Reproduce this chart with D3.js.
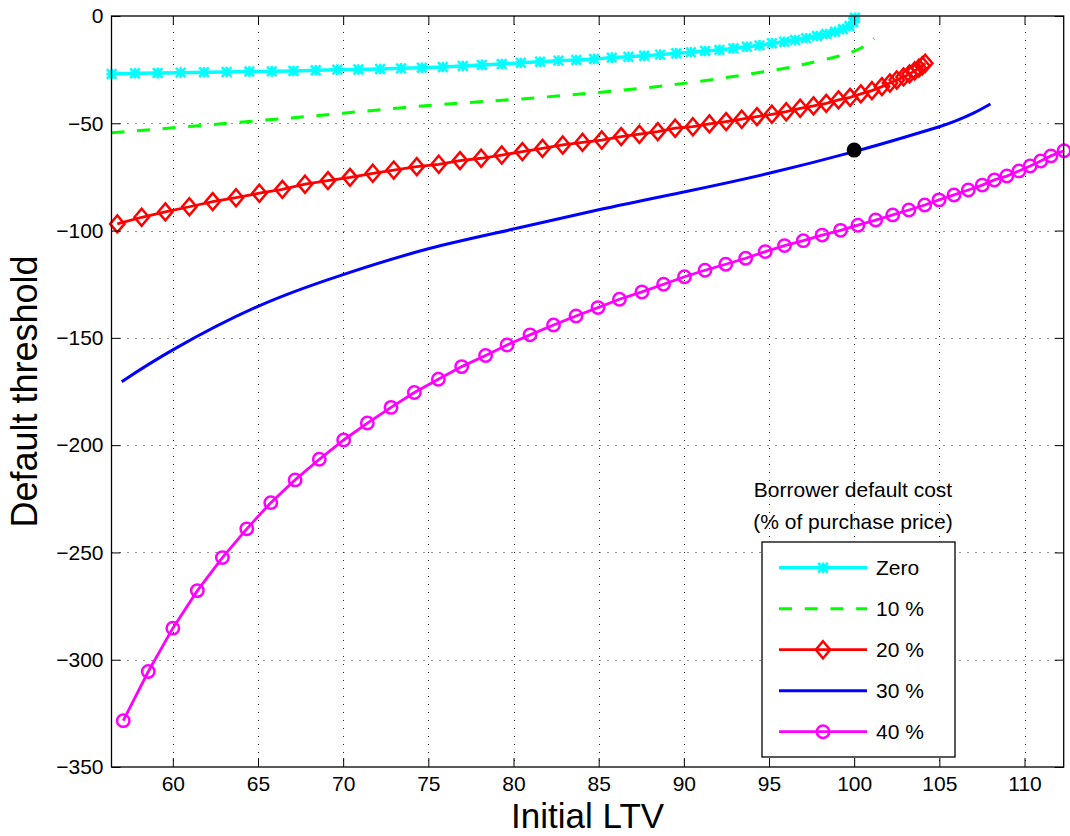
<!DOCTYPE html>
<html>
<head>
<meta charset="utf-8">
<script src="https://cdn.jsdelivr.net/npm/d3@7"></script>
<style>
  body { margin: 0; background: #fff; }
  svg { display: block; font-family: "Liberation Sans", Arial, Helvetica, sans-serif; }
  .grid line { stroke: #222; stroke-width: 1; stroke-dasharray: 1 7; }
  .tick text { font-size: 21px; fill: #000; }
</style>
</head>
<body>
<svg width="1070" height="836"></svg>
<script>
// Series: [initial LTV, default threshold]
var seriesZero = [
  [56.41,-27.0],[57.78,-26.7],[59.11,-26.6],[60.46,-26.4],[61.83,-26.2],[63.16,-26.1],
  [64.49,-25.9],[65.81,-25.8],[67.08,-25.6],[68.39,-25.3],[69.66,-25.0],[70.89,-24.9],
  [72.17,-24.7],[73.40,-24.4],[74.62,-24.1],[75.85,-23.8],[77.02,-23.3],[78.14,-22.8],
  [79.31,-22.4],[80.43,-21.8],[81.56,-21.3],[82.64,-20.8],[83.68,-20.5],[84.73,-20.0],
  [85.77,-19.4],[86.75,-19.0],[87.67,-18.5],[88.61,-18.0],[89.55,-17.4],[90.41,-16.9],
  [91.25,-16.3],[92.09,-15.8],[92.91,-15.1],[93.70,-14.3],[94.44,-13.7],[95.17,-12.7],
  [95.89,-12.0],[96.53,-11.2],[97.18,-10.4],[97.81,-9.3],[98.36,-8.4],[98.88,-7.3],
  [99.34,-6.1],[99.72,-4.7],[99.95,-2.8],[100.05,-0.8]
];
var series10 = [
  [56.4,-54.4],[60,-52.1],[65,-48.8],[70,-45.3],[75,-41.7],[80,-38.9],
  [85,-35.6],[90,-31.4],[95,-25.6],[97,-22.6],[99,-18.9],[100,-16.4],[100.6,-14.0],[101.17,-10.4]
];
var series20 = [
  [56.74,-96.9],[58.17,-93.8],[59.56,-91.3],[60.97,-88.9],[62.34,-86.5],[63.71,-84.7],
  [65.08,-82.6],[66.43,-80.8],[67.76,-78.4],[69.11,-76.7],[70.40,-75.2],[71.74,-73.3],
  [72.97,-71.8],[74.32,-70.2],[75.61,-69.1],[76.86,-67.4],[78.10,-66.3],[79.31,-64.8],
  [80.52,-63.2],[81.70,-61.7],[82.89,-60.1],[84.05,-58.9],[85.18,-57.8],[86.32,-56.2],
  [87.39,-55.1],[88.47,-53.9],[89.49,-52.3],[90.53,-51.6],[91.50,-50.3],[92.48,-49.2],
  [93.40,-48.1],[94.29,-46.9],[95.17,-45.8],[96.01,-44.6],[96.83,-43.0],[97.61,-41.9],
  [98.36,-40.7],[99.08,-39.1],[99.76,-37.9],[100.39,-36.3],[101.04,-34.8],[101.63,-32.9],
  [102.10,-31.2],[102.50,-29.8],[102.90,-28.4],[103.25,-27.0],[103.55,-25.6],[103.80,-24.3],
  [104.00,-23.2],[104.17,-22.0]
];
var series30 = [
  [57.0,-170.4],[60,-155.6],[65,-135.3],[70,-120.5],[75,-108.5],[80,-99.3],[85,-90.3],
  [90,-82.0],[95,-73.3],[100,-63.2],[103,-56.4],[105,-51.6],[106,-48.8],[107,-45.3],[108,-41.0]
];
var series40 = [
  [57.09,-328.4],[58.56,-305.5],[60.0,-285.3],[61.44,-267.8],[62.91,-252.4],[64.34,-239.0],
  [65.75,-226.8],[67.18,-216.2],[68.6,-206.6],[70.03,-197.6],[71.42,-189.7],[72.81,-182.4],
  [74.18,-175.5],[75.59,-169.3],[76.96,-163.4],[78.36,-158.2],[79.62,-153.3],[80.97,-148.6],
  [82.35,-144.0],[83.67,-139.8],[84.96,-135.9],[86.22,-132.0],[87.54,-128.6],[88.81,-125.0],
  [90.04,-121.5],[91.24,-118.5],[92.46,-115.7],[93.63,-112.9],[94.78,-109.8],[95.91,-107.0],
  [97.01,-104.7],[98.12,-102.1],[99.2,-99.9],[100.22,-97.5],[101.26,-95.1],[102.26,-92.7],
  [103.21,-90.4],[104.14,-88.1],[104.98,-85.7],[105.86,-83.4],[106.7,-81.1],[107.52,-78.8],
  [108.23,-76.4],[108.96,-74.6],[109.67,-72.2],[110.33,-69.9],[110.95,-67.6],[111.55,-65.2],
  [112.32,-62.8]
];
var highlightPoint = [100, -62.5];

var xTicks = [60, 65, 70, 75, 80, 85, 90, 95, 100, 105, 110];
var yTicks = [-350, -300, -250, -200, -150, -100, -50, 0];
var legendLabels = ["Zero", "10 %", "20 %", "30 %", "40 %"];
var legendTitle = ["Borrower default cost", "(% of purchase price)"];

var svg = d3.select("svg"),
    plotL = 111.5, plotR = 1063.7, plotT = 16, plotB = 767;

var x = d3.scaleLinear().domain([56.4, 112.3]).range([plotL, plotR]);
var y = d3.scaleLinear().domain([-350, 0]).range([plotB, plotT]);

// dotted grid
var grid = svg.append("g").attr("class", "grid");
grid.selectAll(".gx")
  .data(xTicks)
  .enter().append("line")
    .attr("x1", function(d) { return Math.round(x(d)) + 0.5; })
    .attr("x2", function(d) { return Math.round(x(d)) + 0.5; })
    .attr("y1", plotT).attr("y2", plotB);
grid.selectAll(".gy")
  .data(yTicks.filter(function(d) { return d > -350 && d < 0; }))
  .enter().append("line")
    .attr("y1", function(d) { return Math.round(y(d)) + 0.5; })
    .attr("y2", function(d) { return Math.round(y(d)) + 0.5; })
    .attr("x1", plotL).attr("x2", plotR);

// series (smooth curves for the unmarked ones, polylines through markers otherwise)
var styles = [
  { data: seriesZero, color: "#00ffff", width: 3.5, dash: null, marker: "star", curve: d3.curveLinear },
  { data: series10, color: "#00ff00", width: 3, dash: "13 12.7", marker: null, curve: d3.curveNatural },
  { data: series20, color: "#ff0000", width: 2.8, dash: null, marker: "diamond", curve: d3.curveLinear },
  { data: series30, color: "#0000ff", width: 3, dash: null, marker: null, curve: d3.curveNatural },
  { data: series40, color: "#ff00ff", width: 2.8, dash: null, marker: "circle", curve: d3.curveLinear }
];

var plot = svg.append("g");

function drawMarker(g, type, color, cx, cy) {
  if (type == "circle") {
    g.append("circle").attr("cx", cx).attr("cy", cy).attr("r", 6.2)
      .attr("fill", "none").attr("stroke", color).attr("stroke-width", 2.5);
  } else if (type == "diamond") {
    g.append("path")
      .attr("d", "M" + cx + "," + (cy - 8.5) + "L" + (cx + 7.2) + "," + cy + "L" + cx + "," + (cy + 8.5) + "L" + (cx - 7.2) + "," + cy + "Z")
      .attr("fill", "none").attr("stroke", color).attr("stroke-width", 2.5);
  } else if (type == "star") {
    var s = 4.8;
    g.append("path")
      .attr("d", "M" + (cx - s) + "," + (cy - s) + "L" + (cx + s) + "," + (cy + s) +
                 "M" + (cx - s) + "," + (cy + s) + "L" + (cx + s) + "," + (cy - s) +
                 "M" + cx + "," + (cy - s - 0.5) + "L" + cx + "," + (cy + s + 0.5) +
                 "M" + (cx - s - 0.5) + "," + cy + "L" + (cx + s + 0.5) + "," + cy)
      .attr("fill", "none").attr("stroke", color).attr("stroke-width", 2.6);
  }
}

styles.forEach(function(s) {
  var line = d3.line()
      .x(function(d) { return x(d[0]); })
      .y(function(d) { return y(d[1]); })
      .curve(s.curve);
  plot.append("path")
    .datum(s.data)
    .attr("fill", "none")
    .attr("stroke", s.color)
    .attr("stroke-width", s.width)
    .attr("stroke-dasharray", s.dash)
    .attr("d", line);
  if (s.marker) {
    var mg = plot.append("g");
    s.data.forEach(function(d) { drawMarker(mg, s.marker, s.color, x(d[0]), y(d[1])); });
  }
});

plot.append("circle")
  .attr("cx", x(highlightPoint[0]))
  .attr("cy", y(highlightPoint[1]))
  .attr("r", 7.5)
  .attr("fill", "#000");

// axes, ticks inside on all four sides
svg.append("g")
  .attr("transform", "translate(0," + plotB + ")")
  .call(d3.axisBottom(x).tickValues(xTicks).tickSize(-9).tickPadding(9).tickFormat(d3.format("d")));
svg.append("g")
  .attr("transform", "translate(0," + plotT + ")")
  .call(d3.axisTop(x).tickValues(xTicks).tickSize(-9).tickFormat(""));
svg.append("g")
  .attr("transform", "translate(" + plotL + ",0)")
  .call(d3.axisLeft(y).tickValues(yTicks).tickSize(-9).tickPadding(8).tickFormat(d3.format("d")));
svg.append("g")
  .attr("transform", "translate(" + plotR + ",0)")
  .call(d3.axisRight(y).tickValues(yTicks).tickSize(-9).tickFormat(""));
svg.selectAll(".domain").remove();
svg.selectAll(".tick line").attr("stroke", "#000").attr("stroke-width", 1);

svg.append("rect")
  .attr("x", plotL).attr("y", plotT)
  .attr("width", plotR - plotL).attr("height", plotB - plotT)
  .attr("fill", "none").attr("stroke", "#000").attr("stroke-width", 1.3);

// axis titles
svg.append("text")
  .attr("x", (plotL + plotR) / 2)
  .attr("y", 828)
  .attr("text-anchor", "middle")
  .style("font-size", "35px")
  .text("Initial LTV");
svg.append("text")
  .attr("transform", "translate(37," + (plotT + plotB) / 2 + ") rotate(-90)")
  .attr("text-anchor", "middle")
  .style("font-size", "36px")
  .text("Default threshold");

// legend
var legend = svg.append("g");
legend.selectAll(".ltitle")
  .data(legendTitle)
  .enter().append("text")
    .attr("x", 853)
    .attr("y", function(d, i) { return 497 + i * 32; })
    .attr("text-anchor", "middle")
    .style("font-size", "21px")
    .text(function(d) { return d; });

legend.append("rect")
  .attr("x", 762).attr("y", 542)
  .attr("width", 193).attr("height", 215)
  .attr("fill", "#fff").attr("stroke", "#000").attr("stroke-width", 1.3);

legendLabels.forEach(function(label, i) {
  var s = styles[i], ly = 567.7 + i * 41;
  legend.append("line")
    .attr("x1", 779).attr("x2", 867)
    .attr("y1", ly).attr("y2", ly)
    .attr("stroke", s.color)
    .attr("stroke-width", s.width)
    .attr("stroke-dasharray", s.dash);
  if (s.marker) drawMarker(legend, s.marker, s.color, 823, ly);
  legend.append("text")
    .attr("x", 876).attr("y", ly)
    .attr("dy", "0.36em")
    .style("font-size", "21px")
    .text(label);
});
</script>
</body>
</html>
